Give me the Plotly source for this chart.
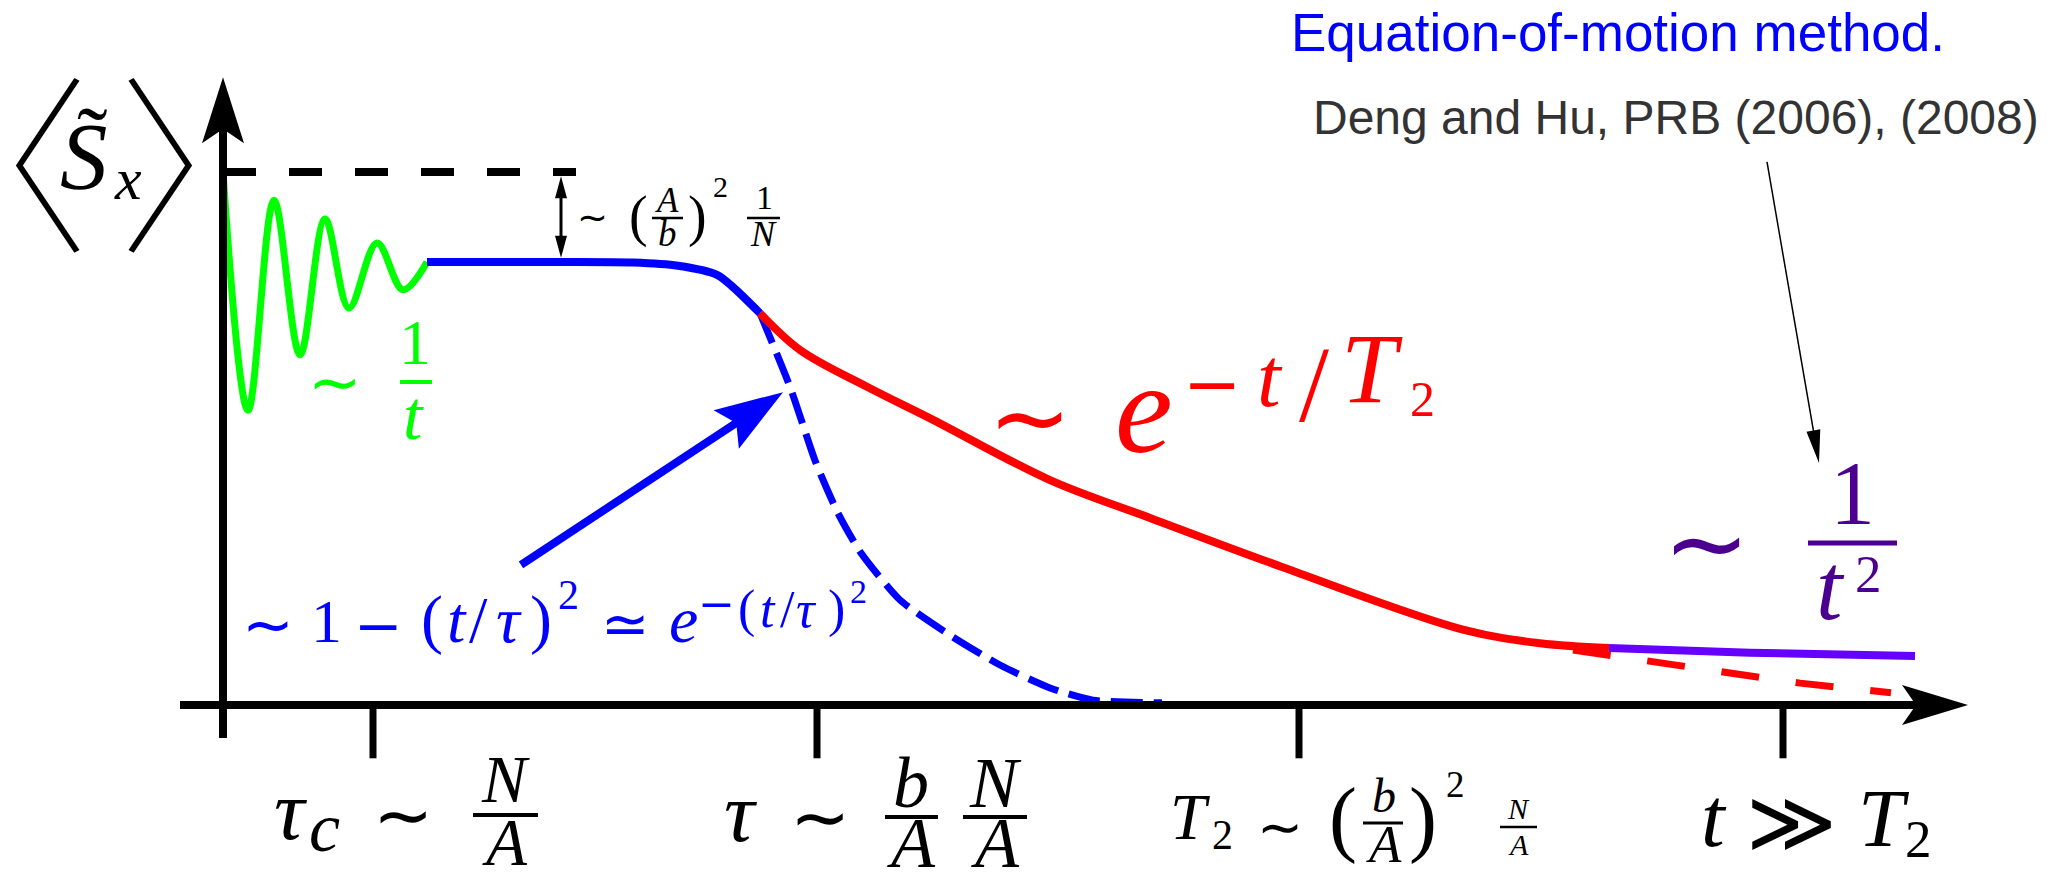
import math
import plotly.graph_objects as go

W, H = 2050, 873
X_RANGE = [-2.23, 18.27]
Y_RANGE = [-0.3152, 1.3227]
PX_T = W / (X_RANGE[1] - X_RANGE[0])
PX_S = H / (Y_RANGE[1] - Y_RANGE[0])

SERIF = "Liberation Serif, DejaVu Serif, serif"
SANS = "Liberation Sans, Arial, sans-serif"
MATH = "DejaVu Sans, sans-serif"
CJK = "Noto Sans CJK JP, DejaVu Sans, sans-serif"

GREEN = "#00ff00"
BLUE = "#0000ff"
RED = "#ff0000"
VIOLET = "#6600ff"
INDIGO = "#4b0090"

# ---- schematic time axis (arbitrary units) and <S_x> values ----
# short-time oscillating decay ~ 1/t
green_t = [0.00, 0.25, 0.51, 0.77, 1.02, 1.26, 1.54, 1.80, 2.04]
green_s = [1.000, 0.553, 0.947, 0.657, 0.912, 0.745, 0.867, 0.779, 0.831]

# plateau and onset of the decay
plateau_t = [2.04, 3.30, 4.10, 4.55, 4.94, 5.10, 5.37]
plateau_s = [0.831, 0.831, 0.830, 0.824, 0.807, 0.784, 0.735]

# exponential decay ~ exp(-t/T2)
exp_t = [5.37, 5.77, 6.44, 7.10, 8.27, 9.27, 10.59, 12.41, 13.17, 13.86]
exp_s = [0.735, 0.666, 0.597, 0.535, 0.422, 0.351, 0.259, 0.141, 0.116, 0.107]

# long-time power-law tail ~ 1/t^2
tail_t = [13.86, 15.27, 16.92]
tail_s = [0.107, 0.098, 0.092]

# continuation of the pure exponential
exp_cont_t = [13.50, 14.27, 15.00, 15.77, 16.68]
exp_cont_s = [0.103, 0.081, 0.062, 0.041, 0.023]

# Gaussian short-time behaviour ~ 1-(t/tau)^2
gauss_t = [5.37, 5.67, 5.93, 6.15, 6.38, 6.77, 7.27, 7.77, 8.27, 8.70, 9.39]
gauss_s = [0.735, 0.597, 0.454, 0.360, 0.285, 0.197, 0.131, 0.075, 0.032, 0.009, 0.004]

# initial value and its reference line
initial_s = 1.0
initial_line_t = [0.0, 3.53]
gap_t = 3.38

# time scales marked on the axis: tau_c, tau, T2, t >> T2
tick_t = [1.50, 5.94, 10.76, 15.60]

fig = go.Figure()

fig.add_trace(go.Scatter(x=initial_line_t, y=[initial_s, initial_s], mode="lines",
                         line=dict(color="black", width=8, dash="33px,33px")))
fig.add_trace(go.Scatter(x=green_t, y=green_s, mode="lines",
                         line=dict(color=GREEN, width=7, shape="spline", smoothing=1.0)))
fig.add_trace(go.Scatter(x=gauss_t, y=gauss_s, mode="lines",
                         line=dict(color=BLUE, width=7, dash="32px,11px", shape="spline", smoothing=0.6)))
fig.add_trace(go.Scatter(x=exp_cont_t, y=exp_cont_s, mode="lines",
                         line=dict(color=RED, width=7, dash="38px,37px")))
fig.add_trace(go.Scatter(x=plateau_t, y=plateau_s, mode="lines",
                         line=dict(color=BLUE, width=8, shape="spline", smoothing=0.8)))
fig.add_trace(go.Scatter(x=exp_t, y=exp_s, mode="lines",
                         line=dict(color=RED, width=8, shape="spline", smoothing=1.0)))
fig.add_trace(go.Scatter(x=tail_t, y=tail_s, mode="lines",
                         line=dict(color=VIOLET, width=8, shape="spline", smoothing=0.8)))


def line(t0, s0, t1, s1, color, width):
    fig.add_shape(type="line", x0=t0, y0=s0, x1=t1, y1=s1, xref="x", yref="y",
                  line=dict(color=color, width=width))


def head(t0, s0, t1, s1, color, length, half, notch=0.0):
    """Filled arrow head at (t1, s1) pointing away from (t0, s0); sizes in pixels."""
    dx, dy = (t1 - t0) * PX_T, (s1 - s0) * PX_S
    n = math.hypot(dx, dy)
    ux, uy = dx / n, dy / n
    nx, ny = -uy, ux

    def off(along, side):
        return (t1 + (-ux * along + nx * side) / PX_T,
                s1 + (-uy * along + ny * side) / PX_S)

    pts = [(t1, s1), off(length, half), off(length - notch, 0), off(length, -half)]
    path = "M " + " L ".join(f"{a:.5f},{b:.5f}" for a, b in pts) + " Z"
    fig.add_shape(type="path", path=path, xref="x", yref="y",
                  fillcolor=color, line=dict(width=0))
    return off(length - notch - 1, 0)


def arrow(t0, s0, t1, s1, color, width, length, half, notch=0.0):
    end = head(t0, s0, t1, s1, color, length, half, notch)
    line(t0, s0, end[0], end[1], color, width)


# axes
arrow(-0.43, 0.0, 17.45, 0.0, "black", 8, 66, 20, 14)
arrow(0.0, -0.062, 0.0, 1.178, "black", 8, 66, 21, 14)
for tk in tick_t:
    line(tk, 0.0, tk, -0.1, "black", 7)

# gap between initial value and plateau
a = head(gap_t, 0.90, gap_t, 0.992, "black", 22, 6)
b = head(gap_t, 0.93, gap_t, 0.839, "black", 22, 6)
line(gap_t, a[1], gap_t, b[1], "black", 3)

# pointer to the Gaussian regime
arrow(2.98, 0.263, 5.60, 0.587, BLUE, 8, 68, 23, 12)

# pointer from the reference to the power-law tail
arrow(15.44, 1.019, 15.96, 0.454, "black", 1.5, 33, 7)


# ---- text (positions in figure pixels, baseline based) ----
DESC = 0.216


def put(cx, baseline, text, size, color="black", family=SERIF, xanchor="center"):
    fig.add_annotation(x=cx / W, y=1 - (baseline + DESC * size) / H, xref="paper", yref="paper",
                       text=text, showarrow=False, xanchor=xanchor, yanchor="bottom",
                       borderpad=0, font=dict(family=family, size=size, color=color))


def mid(cx, cy, text, size, color="black", family=MATH, weight=None):
    font = dict(family=family, size=size, color=color)
    if weight:
        font["weight"] = weight
    fig.add_annotation(x=cx / W, y=1 - cy / H, xref="paper", yref="paper",
                       text=text, showarrow=False, xanchor="center", yanchor="middle",
                       borderpad=0, font=font)


def bar(x0, x1, y, color="black", width=4):
    fig.add_shape(type="line", x0=x0 / W, x1=x1 / W, y0=1 - y / H, y1=1 - y / H,
                  xref="paper", yref="paper", line=dict(color=color, width=width))


def seq(items, baseline, size, color="black", italic=()):
    """Glyphs placed one by one at given centres on a common baseline."""
    for ch, cx in items:
        txt = f"<i>{ch}</i>" if ch in italic else ch
        put(cx, baseline, txt, size, color)


# <S~_x>
mid(-6, 154, "〈", 190, family=CJK, weight=100)
mid(214, 154, "〉", 190, family=CJK, weight=100)
put(84, 190, "<i>S</i>", 95)
put(92, 171, "˜", 92)
put(128, 200, "<i>x</i>", 60)

# ~ 1/t
mid(335, 382, "∼", 64, GREEN)
put(415, 365, "1", 64, GREEN)
bar(400, 432, 382, GREEN, 4)
put(413, 440, "<i>t</i>", 70, GREEN)

# ~ (A/b)^2 1/N
mid(592, 217, "∼", 37)
put(638, 237, "(", 56)
put(667, 213, "<i>A</i>", 35)
bar(652, 683, 218, "black", 2.5)
put(667, 247, "<i>b</i>", 37)
put(697, 237, ")", 56)
put(720, 198, "2", 30)
put(764, 210, "1", 34)
bar(747, 780, 218, "black", 2.5)
put(763, 247, "<i>N</i>", 36)

# ~ 1-(t/tau)^2 ~ exp(-(t/tau)^2)
mid(268, 624, "∼", 62, BLUE)
put(326, 643, "1", 62, BLUE)
mid(378, 626, "−", 58, BLUE)
seq([("(", 432), ("t", 457), ("/", 478), ("τ", 509), (")", 541)], 643, 66, BLUE, italic=("t", "τ"))
put(568, 610, "2", 42, BLUE)
mid(625, 624, "≃", 58, BLUE)
put(683, 643, "<i>e</i>", 66, BLUE)
mid(716, 603, "−", 44, BLUE)
seq([("(", 746), ("t", 768), ("/", 787), ("τ", 806), (")", 836)], 628, 52, BLUE, italic=("t", "τ"))
put(858, 604, "2", 34, BLUE)

# ~ exp(-t/T2)
mid(1030, 417, "∼", 100, RED)
put(1144, 453, "<i>e</i>", 130, RED)
mid(1212, 384, "−", 70, RED)
put(1270, 407, "<i>t</i>", 85, RED)
put(1314, 422, "/", 108, RED)
put(1372, 403, "<i>T</i>", 100, RED)
put(1422, 417, "2", 50, RED)

# ~ 1/t^2
mid(1706, 543, "∼", 104, INDIGO)
put(1852, 525, "1", 90, INDIGO)
bar(1808, 1897, 543, INDIGO, 5)
put(1830, 620, "<i>t</i>", 95, INDIGO)
put(1868, 593, "2", 53, INDIGO)

# tau_c ~ N/A
put(290, 840, "<i>τ</i>", 85)
put(324, 852, "<i>c</i>", 70)
mid(403, 815, "∼", 72)
put(505, 803, "<i>N</i>", 67)
bar(473, 538, 815, "black", 4)
put(505, 866, "<i>A</i>", 67)

# tau ~ (b/A)(N/A)
put(740, 842, "<i>τ</i>", 85)
mid(820, 817, "∼", 72)
put(911, 808, "<i>b</i>", 72)
bar(885, 938, 817, "black", 4)
put(911, 868, "<i>A</i>", 72)
put(995, 808, "<i>N</i>", 72)
bar(963, 1027, 817, "black", 4)
put(995, 868, "<i>A</i>", 72)

# T2 ~ (b/A)^2 N/A
put(1190, 840, "<i>T</i>", 65)
put(1222, 850, "2", 42)
mid(1280, 827, "∼", 55)
put(1343, 848, "(", 84)
put(1384, 813, "<i>b</i>", 48)
bar(1363, 1403, 823, "black", 3)
put(1384, 863, "<i>A</i>", 53)
put(1423, 848, ")", 84)
put(1455, 798, "2", 37)
put(1518, 820, "<i>N</i>", 30)
bar(1500, 1537, 827, "black", 2.5)
put(1518, 856, "<i>A</i>", 30)

# t >> T2
put(1714, 847, "<i>t</i>", 85)
mid(1791, 822, "≫", 87)
put(1884, 847, "<i>T</i>", 83)
put(1918, 858, "2", 53)

# method and reference
put(1618, 52, "Equation-of-motion method.", 53, BLUE, SANS)
put(1676, 135, "Deng and Hu, PRB (2006), (2008)", 48, "#333333", SANS)

fig.update_layout(
    width=W, height=H,
    margin=dict(l=0, r=0, t=0, b=0),
    paper_bgcolor="white", plot_bgcolor="white",
    showlegend=False,
    xaxis=dict(range=X_RANGE, visible=False, fixedrange=True),
    yaxis=dict(range=Y_RANGE, visible=False, fixedrange=True),
)

fig.write_html("out.html")
